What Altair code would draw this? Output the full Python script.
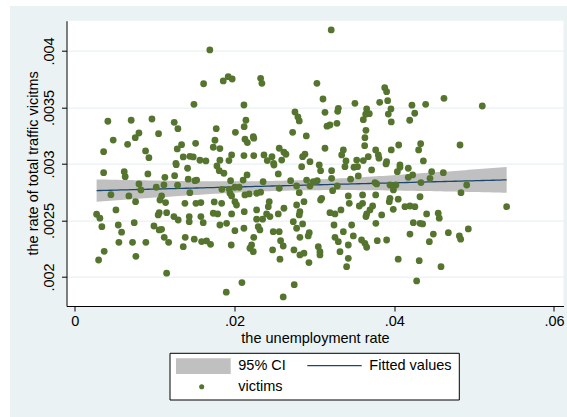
import altair as alt
import numpy as np
import pandas as pd

# unemployment rate (x) and rate of total traffic victims (y) per observation
unemp = [
    0.0169, 0.01612, 0.01858, 0.0192, 0.0197, 0.01491, 0.00413, 0.00705, 0.00965, 0.01244,
    0.0129, 0.0177, 0.0048, 0.00802, 0.00756, 0.0066, 0.01048, 0.0036, 0.00885, 0.00927,
    0.01512, 0.01336, 0.01282, 0.01754, 0.01733, 0.01816, 0.0201, 0.01357, 0.0144, 0.01482,
    0.01566, 0.01641, 0.01816, 0.01929, 0.01963, 0.01265,
    0.0321, 0.02326, 0.02342, 0.03031, 0.02117, 0.03107, 0.0388, 0.03904, 0.03917, 0.03817,
    0.03507, 0.03299, 0.03291, 0.03132, 0.02756, 0.02793, 0.0281, 0.02142, 0.0212, 0.0213,
    0.0216, 0.02234, 0.0224, 0.02727, 0.02898, 0.03157, 0.03194, 0.03282, 0.03654, 0.03642,
    0.03687, 0.03612, 0.03645, 0.03632, 0.03629, 0.03958, 0.03925, 0.03962, 0.02117, 0.0224,
    0.02368, 0.02468, 0.02409, 0.02559, 0.02618, 0.02643, 0.0259, 0.02852, 0.02881, 0.02944,
    0.03132, 0.03362, 0.03341, 0.03395, 0.03529, 0.03612, 0.03674, 0.03767, 0.038, 0.03808,
    0.03904, 0.03962, 0.02489,
    0.04221, 0.04393, 0.04622, 0.05102, 0.04256, 0.04193, 0.04055, 0.0433, 0.04305, 0.04823,
    0.04364, 0.04071,
    0.0036, 0.00618, 0.0063, 0.00914, 0.00451, 0.00676, 0.0076, 0.00802, 0.00827, 0.00272,
    0.00313, 0.00338, 0.00514, 0.00543, 0.00585, 0.00743, 0.00551, 0.00722, 0.00889, 0.00367,
    0.00297, 0.00764, 0.01149, 0.01896, 0.01019, 0.01127, 0.01115, 0.01249, 0.01286, 0.01419,
    0.01411, 0.01269, 0.01086, 0.01065, 0.01136, 0.01056, 0.01149, 0.01043, 0.0099, 0.01056,
    0.01086, 0.01119, 0.01174, 0.0124, 0.01294, 0.01378, 0.01432, 0.01432, 0.01516, 0.01578,
    0.01578, 0.01607, 0.01503, 0.01525, 0.0144, 0.01745, 0.01838, 0.01733, 0.01788, 0.01382,
    0.01357, 0.01495, 0.01587, 0.01649, 0.01699, 0.01779, 0.01808, 0.01866, 0.01933, 0.01841,
    0.0195, 0.01942, 0.01963, 0.019, 0.01816, 0.01958, 0.02004, 0.01963,
    0.02493, 0.0284, 0.0306, 0.03077, 0.03215, 0.03382, 0.03495, 0.0354, 0.03716, 0.03896,
    0.02107, 0.02156, 0.02357, 0.02547, 0.02702, 0.02777, 0.02902, 0.02985, 0.03035, 0.03215,
    0.03286, 0.03453, 0.03549, 0.03758, 0.03779, 0.02004, 0.02058, 0.02129, 0.02183, 0.02276,
    0.02326, 0.02559, 0.0281, 0.02944, 0.03228, 0.03424, 0.03603, 0.03767, 0.03946, 0.02004,
    0.02024, 0.02121, 0.02276, 0.02276, 0.02351, 0.02401, 0.02434, 0.02422, 0.02443, 0.02547,
    0.02618, 0.02777, 0.02869, 0.02818, 0.0281, 0.03077, 0.03091, 0.03194, 0.03257, 0.03332,
    0.03436, 0.03562, 0.03603, 0.03729, 0.03695, 0.03654, 0.03645, 0.03842, 0.03987, 0.03937,
    0.02117, 0.0224, 0.02296, 0.02317, 0.02484, 0.02559, 0.02576, 0.02609, 0.02476, 0.02735,
    0.02777, 0.02852, 0.02935, 0.02922, 0.02818, 0.02743, 0.02818, 0.02869, 0.03048, 0.03069,
    0.03069, 0.03245, 0.03257, 0.03299, 0.03362, 0.03466, 0.03487, 0.03424, 0.0332, 0.0359,
    0.03654, 0.03632, 0.03787, 0.03904, 0.03769, 0.02192, 0.02213, 0.02234, 0.02568, 0.02931,
    0.03424, 0.03403, 0.02092, 0.02747, 0.02609,
    0.04038, 0.04071, 0.04175, 0.0423, 0.04175, 0.04468, 0.04447, 0.04614, 0.04334, 0.04907,
    0.04835, 0.05407, 0.03946, 0.0402, 0.03989, 0.04049, 0.04133, 0.04196, 0.04258, 0.04322,
    0.04238, 0.04322, 0.04355, 0.04405, 0.0455, 0.04563, 0.04196, 0.04489, 0.04439, 0.04677,
    0.04815, 0.04831, 0.04927, 0.04049, 0.04312, 0.04585, 0.0428,
]

victims = [
    0.004009, 0.00371, 0.003735, 0.003773, 0.003752, 0.003528, 0.003378, 0.003387, 0.003398, 0.003369,
    0.003312, 0.003312, 0.003212, 0.003274, 0.003233, 0.003174, 0.003268, 0.003109, 0.003115, 0.003056,
    0.003183, 0.003171, 0.003133, 0.00321, 0.003148, 0.003136, 0.00328, 0.003062, 0.003068, 0.003062,
    0.003033, 0.003027, 0.003033, 0.00303, 0.00308, 0.003006,
    0.004186, 0.003758, 0.003714, 0.003714, 0.003522, 0.003575, 0.003675, 0.00364, 0.00356, 0.003546,
    0.003537, 0.003493, 0.003466, 0.003457, 0.00346, 0.003416, 0.003381, 0.003387, 0.00333, 0.003219,
    0.003189, 0.003242, 0.003228, 0.00328, 0.003248, 0.003334, 0.003345, 0.00336, 0.003487, 0.00344,
    0.003445, 0.003392, 0.003298, 0.003233, 0.003162, 0.003487, 0.003442, 0.003372, 0.003074, 0.003074,
    0.00308, 0.003065, 0.00303, 0.003139, 0.003104, 0.003086, 0.003035, 0.003065, 0.003086, 0.00302,
    0.003139, 0.003124, 0.00308, 0.003027, 0.003035, 0.00303, 0.003065, 0.003124, 0.00308, 0.003051,
    0.00302, 0.003124, 0.003006,
    0.00352, 0.003528, 0.003581, 0.003513, 0.003449, 0.003387, 0.003168, 0.00318, 0.003124, 0.003168,
    0.003027, 0.002991,
    0.002923, 0.002932, 0.002888, 0.002912, 0.002728, 0.002717, 0.002666, 0.002823, 0.00277, 0.002555,
    0.00252, 0.002445, 0.002593, 0.00246, 0.002396, 0.00248, 0.002307, 0.002307, 0.002307, 0.002227,
    0.00215, 0.002183, 0.002033, 0.001865, 0.002794, 0.002882, 0.002814, 0.002896, 0.002812, 0.002865,
    0.002962, 0.002994, 0.002717, 0.002681, 0.002658, 0.002569, 0.002569, 0.002549, 0.002451, 0.002416,
    0.002422, 0.002351, 0.002307, 0.002534, 0.002504, 0.002652, 0.002534, 0.002489, 0.002652, 0.002658,
    0.002534, 0.00248, 0.002852, 0.002858, 0.002746, 0.002664, 0.002652, 0.002564, 0.002558, 0.002351,
    0.002268, 0.002334, 0.002313, 0.002319, 0.002289, 0.002982, 0.002941, 0.002918, 0.002776, 0.002776,
    0.002852, 0.002741, 0.002717, 0.002475, 0.00246, 0.002283, 0.00241, 0.002558,
    0.002991, 0.002976, 0.002991, 0.002941, 0.002941, 0.002976, 0.002971, 0.002976, 0.002947, 0.003,
    0.002858, 0.002903, 0.002843, 0.002912, 0.002852, 0.002805, 0.002858, 0.002843, 0.002852, 0.002873,
    0.002805, 0.002865, 0.002894, 0.002835, 0.002823, 0.002794, 0.002794, 0.002726, 0.002735, 0.002741,
    0.00275, 0.002785, 0.002746, 0.002805, 0.002764, 0.002717, 0.002726, 0.002726, 0.002696, 0.002666,
    0.002637, 0.002578, 0.002593, 0.002511, 0.002511, 0.002558, 0.002666, 0.002622, 0.002534, 0.002558,
    0.002608, 0.002637, 0.002666, 0.002578, 0.002549, 0.002681, 0.002696, 0.002569, 0.002558, 0.002593,
    0.002652, 0.002628, 0.002652, 0.002628, 0.002593, 0.002558, 0.002534, 0.002549, 0.002599, 0.002666,
    0.002431, 0.002351, 0.002445, 0.002416, 0.002401, 0.002401, 0.002321, 0.002274, 0.002239, 0.002489,
    0.002431, 0.002469, 0.002392, 0.002363, 0.002351, 0.002239, 0.002195, 0.00221, 0.002268, 0.002224,
    0.002195, 0.00246, 0.002351, 0.002312, 0.002401, 0.00246, 0.002363, 0.002283, 0.002224, 0.002327,
    0.002263, 0.002298, 0.002321, 0.002327, 0.002475, 0.002254, 0.002283, 0.002224, 0.002157, 0.002127,
    0.002165, 0.002091, 0.00195, 0.001932, 0.001823,
    0.002932, 0.002971, 0.002962, 0.002903, 0.002882, 0.002932, 0.002873, 0.002923, 0.002835, 0.002814,
    0.002746, 0.002622, 0.002814, 0.002814, 0.00277, 0.002688, 0.002622, 0.002628, 0.002622, 0.00271,
    0.00248, 0.002475, 0.002469, 0.002558, 0.002564, 0.00252, 0.00238, 0.00238, 0.002312, 0.002392,
    0.002363, 0.002334, 0.002425, 0.002157, 0.002144, 0.002091, 0.001965,
]

x_ticks = [0, 0.02, 0.04, 0.06]
y_ticks = [0.002, 0.0025, 0.003, 0.0035, 0.004]
legend_labels = ["95% CI", "Fitted values", "victims"]

FONT = "Liberation Sans"
FS = 14.5
GREEN = "#55752F"
NAVY = "#1A476F"
CI_GRAY = "#C0C0C0"
BG = "#EAF2F3"

W, H = 497, 285.3
x_dom = [-0.00105, 0.06119]
y_dom = [0.001743, 0.004268]

pts = pd.DataFrame({"unemp": unemp, "victims": victims})

# linear fit with 95% confidence band for the mean prediction
x = np.asarray(unemp)
y = np.asarray(victims)
n = len(x)
xb = x.mean()
sxx = ((x - xb) ** 2).sum()
slope = ((x - xb) * (y - y.mean())).sum() / sxx
icpt = y.mean() - slope * xb
s = np.sqrt(((y - (icpt + slope * x)) ** 2).sum() / (n - 2))
t_crit = 1.9665
grid = np.linspace(x.min(), x.max(), 120)
fit = icpt + slope * grid
se = s * np.sqrt(1.0 / n + (grid - xb) ** 2 / sxx)
fit_df = pd.DataFrame({"unemp": grid, "fit": fit, "lo": fit - t_crit * se, "hi": fit + t_crit * se})

xs = alt.Scale(domain=x_dom, nice=False, zero=False)
ys = alt.Scale(domain=y_dom, nice=False, zero=False)

# ".02" / ".0025" style tick labels (leading zero dropped)
label_expr = "replace(toString(datum.value), '0.', '.')"

x_axis = alt.Axis(
    values=x_ticks, labelExpr=label_expr, grid=False,
    title="the unemployment rate", titleX=W / 2, titleY=32, titleAlign="center",
    titleBaseline="middle",
    labelPadding=3,
)
y_axis = alt.Axis(
    values=y_ticks, labelExpr=label_expr, grid=True, gridColor=BG, gridWidth=1.2,
    labelAngle=-90, labelAlign="center", labelBaseline="bottom", labelPadding=5,
    title="the rate of total traffic vicitms", titleAngle=270, titleX=-33,
    titleY=H / 2 - 0.5, titleAlign="center", titleBaseline="middle",
)

one = pd.DataFrame({"k": [0]})

# white strip along the top and left edge of the figure
strip_top = alt.Chart(one).mark_rect(color="white").encode(
    x=alt.value(-70), x2=alt.value(W + 10), y=alt.value(-22), y2=alt.value(-14.7)
)
strip_left = alt.Chart(one).mark_rect(color="white").encode(
    x=alt.value(-70), x2=alt.value(-56.5), y=alt.value(-22), y2=alt.value(H + 120)
)

band = alt.Chart(fit_df).mark_area(color=CI_GRAY, opacity=1).encode(
    x=alt.X("unemp:Q", scale=xs, axis=x_axis),
    y=alt.Y("lo:Q", scale=ys, axis=y_axis),
    y2="hi:Q",
)
line = alt.Chart(fit_df).mark_line(color=NAVY, strokeWidth=1.3).encode(
    x=alt.X("unemp:Q", scale=xs),
    y=alt.Y("fit:Q", scale=ys),
)
dots = alt.Chart(pts).mark_circle(color=GREEN, opacity=1, size=46).encode(
    x=alt.X("unemp:Q", scale=xs),
    y=alt.Y("victims:Q", scale=ys),
)

# legend, drawn below the plot region
leg_box = alt.Chart(one).mark_rect(fill="white", stroke="black", strokeWidth=1).encode(
    x=alt.value(103.5), x2=alt.value(392.8), y=alt.value(332.6), y2=alt.value(379.3)
)
leg_ci = alt.Chart(one).mark_rect(color=CI_GRAY).encode(
    x=alt.value(109.5), x2=alt.value(164.2), y=alt.value(337.6), y2=alt.value(353.3)
)
leg_line = alt.Chart(one).mark_rule(color=NAVY, strokeWidth=1.3).encode(
    x=alt.value(240.8), x2=alt.value(295.2), y=alt.value(345)
)
leg_dot = alt.Chart(one).mark_circle(color=GREEN, opacity=1, size=26).encode(
    x=alt.value(135.2), y=alt.value(366)
)
leg_pos = [(171.8, 345.6), (302.8, 345.6), (171.8, 366.3)]
leg_texts = [
    alt.Chart(one).mark_text(
        font=FONT, fontSize=FS, color="black", align="left", baseline="middle"
    ).encode(x=alt.value(px), y=alt.value(py), text=alt.value(lab))
    for lab, (px, py) in zip(legend_labels, leg_pos)
]

chart = alt.layer(
    strip_top, strip_left, band, line, dots, leg_box, leg_ci, leg_line, leg_dot, *leg_texts
).properties(
    width=W, height=H,
    padding={"left": 66.5, "top": 20.7, "right": 3.5, "bottom": 111},
    autosize=alt.AutoSizeParams(type="none"),
    background=BG,
).configure_view(
    fill="white", stroke=None
).configure_axis(
    labelFont=FONT, titleFont=FONT, labelFontSize=FS, titleFontSize=FS,
    labelColor="black", titleColor="black", titleFontWeight="normal",
    domainColor="black", domainWidth=1, tickColor="black", tickSize=5, tickWidth=1,
)

chart.save("out.html", embed_options={"renderer": "svg", "actions": False})
